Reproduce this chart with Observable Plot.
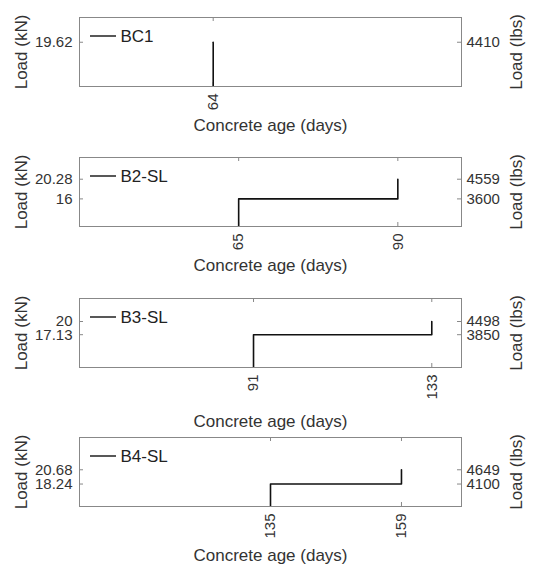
<!DOCTYPE html>
<html><head><meta charset="utf-8">
<script src="https://cdn.jsdelivr.net/npm/d3@7"></script>
<script src="https://cdn.jsdelivr.net/npm/@observablehq/plot@0.6"></script>
<style>body{margin:0;background:#fff} svg{display:block}</style>
</head><body><div id="chart"></div>
<script>
// Data
const specimens = ["BC1", "B2-SL", "B3-SL", "B4-SL"];
const ageBC1 = [64, 64];            const loadBC1 = [0, 19.62];
const ageB2  = [65, 65, 90, 90];    const loadB2  = [0, 16, 16, 20.28];
const ageB3  = [91, 91, 133, 133];  const loadB3  = [0, 17.13, 17.13, 20];
const ageB4  = [135, 135, 159, 159];const loadB4  = [0, 18.24, 18.24, 20.68];
const ages = [ageBC1, ageB2, ageB3, ageB4];
const loads = [loadBC1, loadB2, loadB3, loadB4];
const xDomains = [[50, 90], [40, 100], [50, 140], [100, 170]];
const yDomains = [[10, 25], [10, 25], [10, 25], [14.4, 26.2]];
const xTicks = [[64], [65, 90], [91, 133], [135, 159]];
const yTicksKN = [[19.62], [16, 20.28], [17.13, 20], [18.24, 20.68]];
const yTicksLbs = [["4410"], ["3600", "4559"], ["3850", "4498"], ["4100", "4649"]];
const xLabel = "Concrete age (days)";
const yLabelLeft = "Load (kN)";
const yLabelRight = "Load (lbs)";

// Layout
const W = 545;
const heights = [140, 140, 140, 145];
const mTop = [17, 17, 18, 17];
const mBottom = [54, 54, 53, 59];
const xLabelOffset = [44, 44, 59, 54];
const mLeft = 79, mRight = 84;
const gray = "#888";
const font = "'Liberation Sans', Arial, Helvetica, sans-serif";

const root = document.getElementById("chart");
specimens.forEach((name, k) => {
  const H = heights[k];
  const innerH = H - mTop[k] - mBottom[k];
  const innerW = W - mLeft - mRight;
  const pts = d3.zip(ages[k], loads[k]);
  const lbsMap = new Map(yTicksKN[k].map((v, i) => [v, yTicksLbs[k][i]]));
  const legendLine = (index, scales, values, dims) => d3.create("svg:line")
    .attr("x1", dims.marginLeft + 11).attr("x2", dims.marginLeft + 37)
    .attr("y1", dims.marginTop + 19).attr("y2", dims.marginTop + 19)
    .attr("stroke", "#111").attr("stroke-width", 1.4).node();
  const p = Plot.plot({
    width: W, height: H,
    marginLeft: mLeft, marginRight: mRight, marginTop: mTop[k], marginBottom: mBottom[k],
    style: {fontFamily: font, fontSize: "15px", color: "#333", background: "white", overflow: "visible"},
    x: {domain: xDomains[k]},
    y: {domain: yDomains[k]},
    marks: [
      Plot.frame({stroke: gray}),
      // inward ticks on all four sides
      Plot.tickX(xTicks[k], {x: d => d, insetTop: innerH - 4, stroke: gray}),
      Plot.tickX(xTicks[k], {x: d => d, insetBottom: innerH - 4, stroke: gray}),
      Plot.tickY(yTicksKN[k], {y: d => d, insetRight: innerW - 4, stroke: gray}),
      Plot.tickY(yTicksKN[k], {y: d => d, insetLeft: innerW - 4, stroke: gray}),
      Plot.axisX({anchor: "bottom", ticks: xTicks[k], tickRotate: -90, tickSize: 0, tickPadding: 7, label: null, fontSize: 15, tickFormat: d => String(d)}),
      Plot.axisY({anchor: "left", ticks: yTicksKN[k], tickSize: 0, tickPadding: 7, label: null, fontSize: 15, tickFormat: d => String(d)}),
      Plot.axisY({anchor: "right", ticks: yTicksKN[k], tickSize: 0, tickPadding: 5, label: null, fontSize: 15, tickFormat: d => lbsMap.get(d)}),
      Plot.line(pts, {x: d => d[0], y: d => d[1], stroke: "#111", strokeWidth: 1.6, clip: true}),
      legendLine,
      Plot.text([name], {frameAnchor: "top-left", dx: 41, dy: 19, textAnchor: "start", lineAnchor: "middle", fontSize: 17, fill: "#222"}),
      Plot.text([xLabel], {frameAnchor: "bottom", dy: xLabelOffset[k], lineAnchor: "bottom", fontSize: 17, fill: "#333"}),
      Plot.text([yLabelLeft], {frameAnchor: "left", dx: -58, rotate: -90, textAnchor: "middle", lineAnchor: "middle", fontSize: 17, fill: "#333"}),
      Plot.text([yLabelRight], {frameAnchor: "right", dx: 55, rotate: -90, textAnchor: "middle", lineAnchor: "middle", fontSize: 17, fill: "#333"})
    ]
  });
  root.appendChild(p);
});
</script>
</body></html>
